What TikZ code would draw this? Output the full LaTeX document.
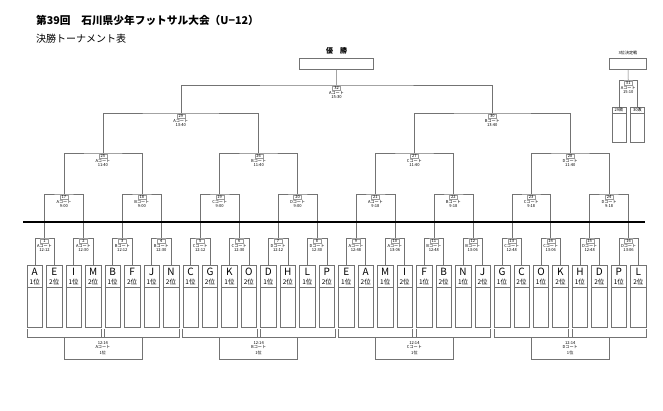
\documentclass[tikz,border=0pt]{standalone}
\usepackage{fontspec}
\setmainfont{Noto Sans CJK JP}
\usetikzlibrary{calc,positioning}
\tikzset{
	line/.style={draw=black!55,line width=0.5pt},
	teambox/.style={line,minimum width=15.5pt,minimum height=62pt,inner sep=0pt},
	tinytext/.style={font=\fontsize{4.1}{4.5}\selectfont,inner sep=0.3pt},
	numbox/.style={tinytext,draw=black!40,line width=0.3pt,minimum width=8pt},
}
\begin{document}
\begin{tikzpicture}[x=1pt,y=-1pt]
\useasboundingbox[fill=white] (0,0) rectangle (663,410);
\node[font=\bfseries\fontsize{10.7}{12}\selectfont,anchor=west,inner sep=0pt] (title) at (36,20) {第39回　石川県少年フットサル大会（U−12）};
\node[font=\fontsize{10}{12}\selectfont,anchor=west,inner sep=0pt] (subtitle) at (36,39) {決勝トーナメント表};
% teams
\foreach \n [count=\i from 0] in {A,E,I,M,B,F,J,N,C,G,K,O,D,H,L,P,E,A,M,I,F,B,N,J,G,C,O,K,H,D,P,L}{
	\pgfmathtruncatemacro\r{mod(\i,2)+1}
	\node[teambox] (t\i) at ({34.75+19.47*\i},296) {};
	\node[font=\fontsize{10}{10}\selectfont,inner sep=0pt] (n\i) at ($(t\i.north)+(0,7.5)$) {\n};
	\node[font=\fontsize{6.5}{7}\selectfont,inner sep=0pt] (p\i) at ($(t\i.north)+(0,17)$) {\r 位};
	\draw[line] ($(t\i.north west)+(0,22)$) -- ($(t\i.north east)+(0,22)$);
}
% first round
\foreach \k/\c/\tm in {0/A/12:12,1/A/12:30,2/B/12:12,3/B/12:30,4/C/12:12,5/C/12:30,6/D/12:12,7/D/12:30,8/A/12:48,9/A/13:06,10/B/12:48,11/B/13:06,12/C/12:48,13/C/13:06,14/D/12:48,15/D/13:06}{
	\pgfmathtruncatemacro\a{2*\k}
	\pgfmathtruncatemacro\b{2*\k+1}
	\pgfmathtruncatemacro\m{\k+1}
	\coordinate (ma\k) at ({44.485+38.94*\k},238);
	\draw[line] (t\a.north) |- (ma\k) -| (t\b.north);
	\node[numbox,below=1.2pt of ma\k] (na\k) {\m};
	\node[tinytext,below=0.3pt of na\k] (ca\k) {\c コート};
	\node[tinytext,below=0pt of ca\k] (ha\k) {\tm};
}
% second round
\foreach \k/\c/\tm in {0/A/9:00,1/B/9:00,2/C/9:00,3/D/9:00,4/A/9:18,5/B/9:18,6/C/9:18,7/D/9:18}{
	\pgfmathtruncatemacro\a{2*\k}
	\pgfmathtruncatemacro\b{2*\k+1}
	\pgfmathtruncatemacro\m{\k+17}
	\coordinate (mb\k) at ({63.955+77.88*\k},194);
	\draw[line] (ma\a) |- (mb\k) -| (ma\b);
	\node[numbox,below=1.2pt of mb\k] (nb\k) {\m};
	\node[tinytext,below=0.3pt of nb\k] (cb\k) {\c コート};
	\node[tinytext,below=0pt of cb\k] (hb\k) {\tm};
}
% third round
\foreach \k/\c/\tm in {0/A/11:40,1/B/11:40,2/C/11:40,3/D/11:40}{
	\pgfmathtruncatemacro\a{2*\k}
	\pgfmathtruncatemacro\b{2*\k+1}
	\pgfmathtruncatemacro\m{\k+25}
	\coordinate (mc\k) at ({102.895+155.76*\k},153);
	\draw[line] (mb\a) |- (mc\k) -| (mb\b);
	\node[numbox,below=1.2pt of mc\k] (nc\k) {\m};
	\node[tinytext,below=0.3pt of nc\k] (cc\k) {\c コート};
	\node[tinytext,below=0pt of cc\k] (hc\k) {\tm};
}
% semi finals
\foreach \k/\c/\tm in {0/A/13:40,1/B/13:40}{
	\pgfmathtruncatemacro\a{2*\k}
	\pgfmathtruncatemacro\b{2*\k+1}
	\pgfmathtruncatemacro\m{\k+29}
	\coordinate (md\k) at ({180.775+311.52*\k},113);
	\draw[line] (mc\a) |- (md\k) -| (mc\b);
	\node[numbox,below=1.2pt of md\k] (nd\k) {\m};
	\node[tinytext,below=0.3pt of nd\k] (cd\k) {\c コート};
	\node[tinytext,below=0pt of cd\k] (hd\k) {\tm};
}
% final
\node[line,minimum width=74pt,minimum height=11pt,inner sep=0pt] (win) at (336.5,63.5) {};
\node[font=\bfseries\fontsize{7}{8}\selectfont,inner sep=0pt,above=3pt of win] (winlabel) {優　勝};
\coordinate (me) at (336.535,85);
\draw[line] (md0) |- (me) -| (md1);
\draw[line] (me) -- (win.south);
\node[numbox,below=1.2pt of me] (ne) {32};
\node[tinytext,below=0.3pt of ne] (ce) {Aコート};
\node[tinytext,below=0pt of ce] (he) {15:30};
% third place
\node[line,minimum width=37pt,minimum height=11pt,inner sep=0pt] (third) at (628,64) {};
\node[tinytext,above=2.5pt of third] (thirdlabel) {3位決定戦};
\coordinate (mt) at (628.25,80);
\node[teambox,minimum width=14pt,minimum height=35pt] (s0) at (619,124.5) {};
\node[teambox,minimum width=14pt,minimum height=35pt] (s1) at (637.5,124.5) {};
\draw[line] (third.south) -- (mt);
\draw[line] (s0.north) |- (mt) -| (s1.north);
\node[numbox,below=1.2pt of mt] (nt) {31};
\node[tinytext,below=0.3pt of nt] (ct) {Aコート};
\node[tinytext,below=0pt of ct] (ht) {15:10};
\node[tinytext] (s0l) at ($(s0.north)+(0,3)$) {29敗};
\node[tinytext] (s1l) at ($(s1.north)+(0,3)$) {30敗};
\draw[line] ($(s0.north west)+(0,6)$) -- ($(s0.north east)+(0,6)$);
\draw[line] ($(s1.north west)+(0,6)$) -- ($(s1.north east)+(0,6)$);
% the day line
\coordinate (dayL) at (23,222);
\coordinate (dayR) at (645,222);
\draw[line width=1.6pt] (dayL) -- (dayR);
% groups and placement matches
\foreach \g in {0,...,7}{
	\pgfmathtruncatemacro\a{4*\g}
	\pgfmathtruncatemacro\b{4*\g+3}
	\draw[line] ($(t\a.south west)+(0,2)$) -- ($(t\a.south west)+(0,10)$) -- ($(t\b.south east)+(0,10)$) -- ($(t\b.south east)+(0,2)$);
}
\foreach \k/\c in {0/A,1/B,2/C,3/D}{
	\node[line,tinytext,align=center,minimum width=77.9pt,minimum height=22pt] (pl\k) at ({102.895+155.76*\k},348) {12:14\\[0.4pt]\c コート\\[1.2pt]1位};
}
\end{tikzpicture}
\end{document}
